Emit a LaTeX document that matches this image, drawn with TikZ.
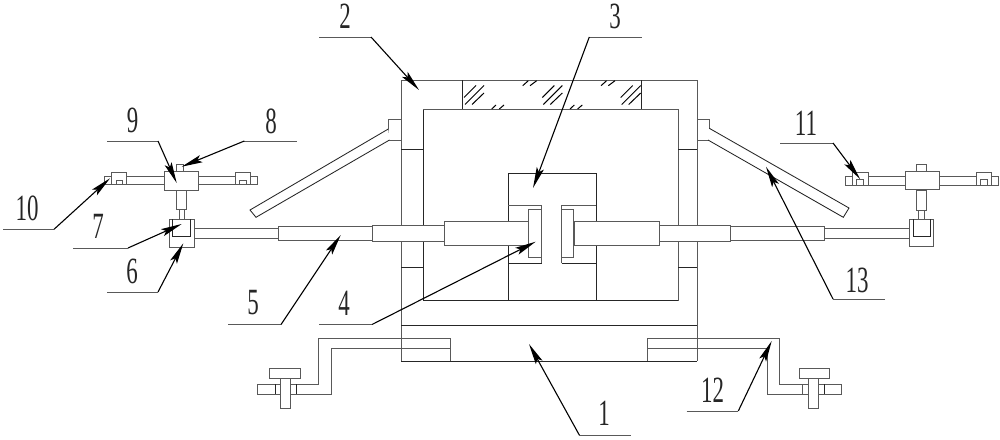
\documentclass[tikz,border=0pt]{standalone}
\usepackage{fontspec}
\setmainfont{Liberation Serif}
\usetikzlibrary{arrows.meta}
\tikzset{
  part/.style={draw=black!65,line width=.85pt,fill=white,line join=miter},
  edge/.style={draw=black!65,line width=.85pt},
  dark/.style={draw=black!85,line width=.85pt},
  hatch/.style={draw=black,line width=1pt},
  leaderline/.style={draw=black,line width=1.1pt,-{Stealth[length=21pt,width=7.5pt,inset=4pt]}},
  shelf/.style={draw=black!65,line width=.9pt},
  numlabel/.style={font=\fontsize{37}{37}\selectfont,xscale=.62,transform shape,inner sep=0pt,text=black!85}
}
% name, shelf end, kink, tip, label text, label position
\newcommand{\callout}[6]{%
  \coordinate (#1s) at #2;
  \coordinate (#1k) at #3;
  \coordinate (#1t) at #4;
  \draw[shelf] (#1s) -- (#1k);
  \draw[leaderline] (#1k) -- (#1t);
  \node[numlabel] (#1n) at #6 {#5};
}
% hatch group of three strokes
\newcommand{\hatchA}[1]{%
  \begin{scope}[shift={(#1,0)}]
    \draw[hatch] (464,97.5) -- (476,85.5);
    \draw[hatch] (465,104.5) -- (484,85.5);
    \draw[hatch] (472,104.5) -- (484,93);
  \end{scope}}
\newcommand{\hatchB}[1]{%
  \begin{scope}[shift={(#1,0)}]
    \draw[hatch] (522.7,85.7) -- (528.3,80.7);
    \draw[hatch] (530,85.7) -- (536.7,80.7);
  \end{scope}}
\newcommand{\hatchC}[1]{%
  \begin{scope}[shift={(#1,0)}]
    \draw[hatch] (491.7,109) -- (496,105);
    \draw[hatch] (499.3,109) -- (504,105);
  \end{scope}}
\begin{document}
\begin{tikzpicture}[x=1pt,y=-1pt]
\useasboundingbox (0,0) rectangle (1000,439);
\fill[white] (0,0) rectangle (1000,439);
% ---- base and crank arms
\draw[dark] (401,361) -- (697,361);
\draw[edge] (401,325) -- (401,361) (697,325) -- (697,361);
\draw[edge] (318.7,338.3) -- (450.7,338.3) -- (450.7,361) (331.3,348.3) -- (450.7,348.3);
\draw[edge] (318.7,338.3) -- (318.7,384) -- (257.3,384) -- (257.3,394.3) -- (331.3,394.3) -- (331.3,348.3);
\draw[dark] (275,384) -- (275,394.3) (296.3,384) -- (296.3,394.3);
\draw[part] (280.7,378) rectangle (290,408);
\draw[part] (269.3,368.7) rectangle (300.3,378.3);
\draw[edge] (647.3,361) -- (647.3,338.3) -- (779.3,338.3) -- (779.3,384) -- (841.7,384) -- (841.7,394.3) -- (767.3,394.3) -- (767.3,348.3) -- (647.3,348.3);
\draw[edge] (802.7,384) -- (802.7,394.3);
\draw[dark] (824.3,384) -- (824.3,394.3);
\draw[part] (808.7,378) rectangle (818,408);
\draw[part] (799,368.7) rectangle (829.3,378.3);
% ---- frame
\draw[edge] (401,325) -- (401,80) -- (697,80) -- (697,325);
\draw[dark] (423,300.5) -- (423,109);
\draw[edge] (423,109) -- (678,109) -- (678,300.5);
\draw[dark] (423,300.5) -- (678,300.5);
\draw[dark] (401,325) -- (697,325);
\draw[dark] (462,80) -- (462,109) (641,80) -- (641,109);
\draw[dark] (401,149) -- (423,149) (678,149) -- (697,149);
\draw[dark] (401,267) -- (423,267) (678,267) -- (697,267);
\hatchA{0}\hatchA{78.3}\hatchA{156.7}
\hatchB{0}\hatchB{78.3}
\hatchC{0}\hatchC{78.3}
% ---- central block
\draw[dark] (508,300.5) -- (508,173) -- (596,173) -- (596,300.5);
\draw[edge] (508,205) -- (541.5,205) -- (541.5,263) (561.5,263) -- (561.5,205) -- (596,205);
\draw[dark] (508,263) -- (541.5,263) (561.5,263) -- (596,263);
% ---- rods, left
\draw[part] (193.5,228) rectangle (278,238);
\draw[part] (278,226.5) rectangle (372,240);
\draw[part] (372,225) rectangle (444,241);
\draw[part] (444,221) rectangle (529,245);
\draw[part] (528.7,209) rectangle (541.5,257);
% ---- rods, right
\draw[part] (824,228) rectangle (909,238);
\draw[part] (730.7,226.5) rectangle (824,240);
\draw[part] (659,225) rectangle (730.7,241);
\draw[part] (574,221) rectangle (659,245);
\draw[part] (561.5,209) rectangle (573.7,257);
% ---- hinged plates
\draw[part] (388.3,119.3) rectangle (401,140.3);
\draw[dark,fill=white] (388.3,129) -- (250,210) -- (256,217.3) -- (389.5,140);
\draw[part] (697,119.3) rectangle (709.3,140.7);
\draw[dark,fill=white] (709.3,128.3) -- (849,208) -- (843.3,217.3) -- (708,140);
% ---- left head
\draw[part] (169.5,219) rectangle (194,247);
\draw[dark] (172.7,219) -- (172.7,236.7) -- (190,236.7) -- (190,219);
\draw[part] (179,209) rectangle (184,219);
\draw[part] (176.7,190) rectangle (186,209);
\draw[part] (104,176.7) rectangle (257,184.7);
\draw[part] (176.7,164.7) rectangle (183.3,171);
\draw[part] (164,171) rectangle (198,190);
\draw[part] (111,172.3) rectangle (126.3,184.4);
\draw[part] (116,180) rectangle (122,184.4);
\draw[part] (235.3,172.3) rectangle (250.3,184.4);
\draw[part] (239,180) rectangle (246,184.4);
% ---- right head
\draw[part] (909,219) rectangle (933,246.7);
\draw[dark] (913,219) -- (913,236.7) -- (930,236.7) -- (930,219);
\draw[part] (918.7,210) rectangle (924.3,219);
\draw[part] (916.7,190) rectangle (926.7,210);
\draw[part] (845,176.7) rectangle (998,185);
\draw[part] (916.7,164) rectangle (926,171.7);
\draw[part] (905,171.7) rectangle (939,189.7);
\draw[part] (852,172.7) rectangle (868,185);
\draw[part] (856.7,179.5) rectangle (863,185);
\draw[part] (976,172.7) rectangle (991.7,185);
\draw[part] (980,179.5) rectangle (987,185);
% ---- callouts
\callout{a}{(630.7,435)}{(579.3,435)}{(529,344)}{1}{(604,413)}
\callout{b}{(319,37)}{(371,37)}{(419,90)}{2}{(345,16.5)}
\callout{c}{(641.7,37)}{(589.3,37)}{(533,188)}{3}{(615,16.5)}
\callout{d}{(319,324.5)}{(372,324.5)}{(535.7,241.7)}{4}{(344,303)}
\callout{e}{(228,324.5)}{(281,324.5)}{(340.7,235)}{5}{(253,303)}
\callout{f}{(107,292)}{(158,292)}{(183.3,243.3)}{6}{(132,271.7)}
\callout{g}{(73,248)}{(128,248)}{(181.7,224)}{7}{(98,226.7)}
\callout{h}{(296.7,141)}{(244.3,141)}{(181.7,166.7)}{8}{(271,121.7)}
\callout{i}{(107,141)}{(158,141)}{(176.7,183)}{9}{(132.7,120.7)}
\callout{j}{(3,229.3)}{(54,229.3)}{(110,178.3)}{10}{(27,208)}
\callout{k}{(780,143)}{(833,143)}{(860,179)}{11}{(806,123)}
\callout{l}{(686.7,411)}{(738.3,411)}{(771.7,341)}{12}{(712.7,390.7)}
\callout{m}{(885,299)}{(833,299)}{(766,166.7)}{13}{(857,280)}
\end{tikzpicture}
\end{document}
